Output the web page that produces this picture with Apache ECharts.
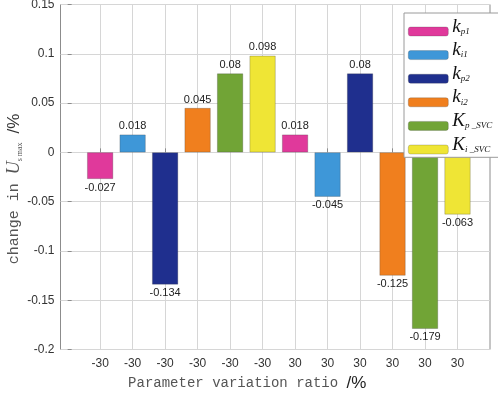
<!DOCTYPE html>
<html>
<head>
<meta charset="utf-8">
<script src="https://cdn.jsdelivr.net/npm/echarts@6/dist/echarts.min.js"></script>
<style>
  html, body { margin: 0; padding: 0; background: #fff; }
  #chart { width: 498px; height: 393px; }
</style>
</head>
<body>
<div id="chart"></div>
<script>
// bar positions (1..12) and their tick text
const positions = [1, 2, 3, 4, 5, 6, 7, 8, 9, 10, 11, 12]
const tickLabels = ['-30', '-30', '-30', '-30', '-30', '-30', '30', '30', '30', '30', '30', '30']

// one series per parameter: value at -30% and at +30%
const seriesNames = ['kp1', 'ki1', 'kp2', 'ki2', 'Kp_SVC', 'Ki_SVC']
const valuesMinus30 = [-0.027, 0.018, -0.134, 0.045, 0.08, 0.098]
const valuesPlus30 = [0.018, -0.045, 0.08, -0.125, -0.179, -0.063]

const colors = ['#E0399B', '#3E97D8', '#1F2F8E', '#F07F1E', '#71A436', '#EFE535']

const legendText = {
  kp1: '{k|k}{s|p1}',
  ki1: '{k|k}{s|i1}',
  kp2: '{k|k}{s|p2}',
  ki2: '{k|k}{s|i2}',
  Kp_SVC: '{k|K}{s|p _SVC}',
  Ki_SVC: '{k|K}{s|i _SVC}'
}

const series = seriesNames.map((name, i) => ({
  name: name,
  type: 'bar',
  barWidth: 26,
  barGap: '-100%',
  itemStyle: { color: colors[i], borderColor: 'rgba(60,60,60,0.45)', borderWidth: 0.6 },
  label: {
    show: true,
    color: '#222',
    fontSize: 11,
    fontFamily: 'Liberation Sans',
    distance: 3,
    formatter: p => String(p.value[1]),
    position: 'top'
  },
  data: [
    { value: [positions[i], valuesMinus30[i]], label: { position: valuesMinus30[i] < 0 ? 'bottom' : 'top' } },
    { value: [positions[i + 6], valuesPlus30[i]], label: { position: valuesPlus30[i] < 0 ? 'bottom' : 'top' } }
  ]
}))

const chart = echarts.init(document.getElementById('chart'))
const option = {
  animation: false,
  color: colors,
  grid: {
    left: 60.5,
    right: 8,
    top: 4.5,
    bottom: 43.5,
    outerBoundsMode: 'none',
    containLabel: false,
    show: true,
    borderColor: '#8c8c8c',
    borderWidth: 1
  },
  legend: {
    orient: 'vertical',
    left: 404,
    top: 13,
    padding: [4, 12, 3, 4],
    backgroundColor: '#fff',
    borderColor: '#9a9a9a',
    borderWidth: 1,
    itemWidth: 40,
    itemHeight: 9,
    itemGap: 4.3,
    itemStyle: { borderWidth: 0.6, borderColor: 'rgba(60,60,60,0.4)' },
    data: seriesNames,
    formatter: name => legendText[name],
    textStyle: {
      padding: [0, 0, 0, -1],
      rich: {
        k: { fontFamily: 'Liberation Serif', fontStyle: 'italic', fontSize: 19, color: '#111', lineHeight: 9, verticalAlign: 'bottom' },
        s: { fontFamily: 'Liberation Serif', fontStyle: 'italic', fontSize: 9, color: '#111', lineHeight: 9, verticalAlign: 'bottom' }
      }
    }
  },
  xAxis: {
    type: 'value',
    min: -0.22,
    max: 13,
    name: 'Parameter variation ratio {b|/%}',
    nameLocation: 'middle',
    nameGap: 25,
    nameMoveOverlap: false,
    nameTextStyle: {
      fontFamily: 'Liberation Mono',
      fontSize: 14,
      color: '#555',
      padding: [0, 56, 0, 0],
      rich: {
        b: { fontFamily: 'Liberation Sans', fontSize: 17, color: '#222' }
      }
    },
    axisLine: { show: false },
    axisTick: { show: true, inside: true, length: 4, customValues: positions, lineStyle: { color: '#8c8c8c' } },
    axisLabel: {
      customValues: positions,
      margin: 8,
      color: '#333',
      fontSize: 12,
      fontFamily: 'Liberation Sans',
      formatter: v => tickLabels[Math.round(v) - 1] || ''
    },
    splitLine: { show: true, lineStyle: { color: '#d6d6d6' } }
  },
  yAxis: {
    type: 'value',
    min: -0.2,
    max: 0.15,
    interval: 0.05,
    name: 'change in {u|U}{sub|s max} {b|/%}',
    nameLocation: 'middle',
    nameGap: 37,
    nameMoveOverlap: false,
    nameTextStyle: {
      fontFamily: 'Liberation Mono',
      fontSize: 15,
      color: '#555',
      padding: [0, 24, 0, 0],
      rich: {
        u: { fontFamily: 'Liberation Serif', fontStyle: 'italic', fontSize: 18, color: '#555' },
        sub: { fontFamily: 'Liberation Serif', fontSize: 8, color: '#555', verticalAlign: 'bottom', padding: [8, 0, 0, 0] },
        b: { fontFamily: 'Liberation Sans', fontSize: 17, color: '#333' }
      }
    },
    axisLine: { show: false },
    axisTick: { show: true, inside: true, length: 4, lineStyle: { color: '#8c8c8c' } },
    axisLabel: {
      color: '#333',
      fontSize: 12,
      fontFamily: 'Liberation Sans',
      margin: 6,
      formatter: v => String(Math.round(v * 100) / 100)
    },
    splitLine: { show: true, lineStyle: { color: '#d6d6d6' } }
  },
  series: series
}
chart.setOption(option)
</script>
</body>
</html>
